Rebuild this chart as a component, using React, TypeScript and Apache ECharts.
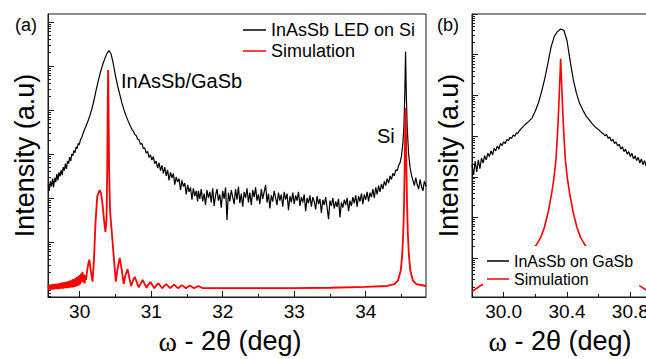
import React, { useEffect, useRef } from "react";
import * as echarts from "echarts";

const FONT = "'Liberation Sans', Arial, Helvetica, sans-serif";
const SERIF = "'Liberation Serif', 'Times New Roman', serif";

// All series: [omega-2theta (deg), log10(intensity, a.u.)]
const LED_ON_SI: number[][] = [
  [29.56, 2.30], [29.575, 2.16], [29.59, 2.38], [29.605, 2.26], [29.62, 2.44], [29.635, 2.24], [29.65, 2.46], [29.665, 2.36],
  [29.68, 2.54], [29.695, 2.40], [29.71, 2.58], [29.725, 2.49], [29.74, 2.63], [29.755, 2.52], [29.77, 2.70], [29.785, 2.62],
  [29.80, 2.78], [29.815, 2.66], [29.83, 2.84], [29.845, 2.78], [29.86, 2.93], [29.875, 2.84], [29.89, 3.00], [29.905, 2.96],
  [29.92, 3.08], [29.935, 3.03], [29.95, 3.16], [29.965, 3.12], [29.98, 3.24], [29.995, 3.21], [30.01, 3.32], [30.03, 3.38],
  [30.05, 3.48], [30.07, 3.56], [30.09, 3.64], [30.11, 3.72], [30.14, 3.86], [30.17, 4.02], [30.20, 4.22], [30.23, 4.45],
  [30.26, 4.66], [30.29, 4.86], [30.32, 5.02], [30.35, 5.16], [30.38, 5.28], [30.41, 5.35], [30.44, 5.27], [30.47, 5.05],
  [30.50, 4.78], [30.53, 4.55], [30.56, 4.36], [30.59, 4.16], [30.62, 4.00], [30.65, 3.86], [30.68, 3.74], [30.71, 3.63],
  [30.73, 3.56], [30.75, 3.52], [30.77, 3.44], [30.79, 3.42], [30.81, 3.34], [30.83, 3.32], [30.85, 3.22], [30.87, 3.24],
  [30.89, 3.12], [30.91, 3.14], [30.93, 3.02], [30.95, 3.06], [30.97, 2.92], [30.99, 2.98], [31.01, 2.86], [31.03, 2.94],
  [31.05, 2.78], [31.07, 2.84], [31.09, 2.68], [31.11, 2.80], [31.13, 2.62], [31.15, 2.74], [31.17, 2.56], [31.19, 2.70],
  [31.21, 2.50], [31.23, 2.64], [31.25, 2.40], [31.27, 2.58], [31.29, 2.46], [31.31, 2.56], [31.33, 2.30], [31.35, 2.48],
  [31.37, 2.36], [31.39, 2.44], [31.41, 2.18], [31.43, 2.40], [31.45, 2.26], [31.47, 2.34], [31.49, 2.08], [31.51, 2.30],
  [31.53, 2.14], [31.55, 2.24], [31.57, 1.96], [31.59, 2.22], [31.61, 2.04], [31.63, 2.16], [31.65, 1.92],
  [31.66, 2.16], [31.68, 1.98], [31.70, 2.20], [31.72, 1.92], [31.74, 2.10], [31.76, 1.84], [31.78, 2.18], [31.80, 2.00],
  [31.82, 2.14], [31.84, 1.90], [31.86, 2.22], [31.88, 1.82], [31.90, 2.06], [31.92, 2.20], [31.94, 1.94], [31.96, 2.08],
  [31.98, 1.78], [32.00, 2.16], [32.02, 1.98], [32.04, 2.24], [32.06, 1.50], [32.08, 2.12], [32.10, 1.92], [32.12, 2.18],
  [32.14, 2.02], [32.16, 1.86], [32.18, 2.20], [32.20, 1.96], [32.22, 2.26], [32.24, 1.88], [32.26, 2.10], [32.28, 1.80],
  [32.30, 2.14], [32.32, 2.00], [32.34, 2.22], [32.36, 1.90], [32.38, 2.12], [32.40, 1.84], [32.42, 2.18], [32.44, 2.02],
  [32.46, 2.24], [32.48, 1.94], [32.50, 2.08], [32.52, 1.86], [32.54, 2.20], [32.56, 1.98], [32.58, 2.14], [32.60, 2.30],
  [32.62, 1.90], [32.64, 2.10], [32.66, 1.76], [32.68, 2.06], [32.70, 1.92], [32.72, 2.16], [32.74, 2.00], [32.76, 1.84],
  [32.78, 2.12], [32.80, 1.94], [32.82, 2.08], [32.84, 1.80], [32.86, 2.14], [32.88, 1.96], [32.90, 2.10], [32.92, 1.72],
  [32.94, 2.04], [32.96, 1.90], [32.98, 2.12], [33.00, 1.86], [33.02, 2.06], [33.04, 1.94], [33.06, 2.14], [33.08, 1.82],
  [33.10, 2.02], [33.12, 1.90], [33.14, 2.08], [33.16, 1.70], [33.18, 2.00], [33.20, 1.88], [33.22, 2.06], [33.24, 1.80],
  [33.26, 2.02], [33.28, 1.92], [33.30, 1.74], [33.32, 2.04], [33.34, 1.86], [33.36, 1.98], [33.38, 1.66], [33.40, 1.96],
  [33.42, 1.84], [33.44, 2.02], [33.46, 1.78], [33.48, 1.52], [33.50, 1.94], [33.52, 1.82], [33.54, 2.00], [33.56, 1.76],
  [33.58, 1.92], [33.60, 1.80], [33.62, 1.98], [33.64, 1.56], [33.66, 1.90], [33.68, 1.78], [33.70, 1.96], [33.72, 1.84],
  [33.74, 2.00], [33.76, 1.70], [33.78, 1.94], [33.80, 1.82], [33.82, 2.02], [33.84, 1.88], [33.86, 2.06], [33.88, 1.80],
  [33.90, 2.04], [33.92, 1.92], [33.94, 2.10], [33.96, 1.86], [33.98, 2.08], [34.00, 1.96], [34.02, 2.14], [34.04, 1.92],
  [34.06, 2.12], [34.08, 2.02], [34.10, 2.20], [34.12, 2.00], [34.14, 2.24], [34.16, 2.08], [34.18, 2.28], [34.20, 2.14],
  [34.22, 2.32], [34.24, 2.20], [34.26, 2.38], [34.28, 2.28], [34.30, 2.44], [34.32, 2.34], [34.34, 2.50], [34.36, 2.42],
  [34.38, 2.56], [34.40, 2.50], [34.42, 2.64], [34.44, 2.62], [34.46, 2.74], [34.48, 2.80], [34.50, 2.95],
  [34.52, 3.25], [34.535, 3.65], [34.547, 4.40], [34.557, 5.33], [34.567, 4.40], [34.58, 3.60], [34.60, 3.00], [34.62, 2.70],
  [34.64, 2.52], [34.66, 2.40], [34.68, 2.28], [34.70, 2.46], [34.72, 2.30], [34.74, 2.20], [34.76, 2.42], [34.78, 2.26],
  [34.80, 2.16], [34.82, 2.38], [34.845, 2.26],
];

const SIM_ON_SI: number[][] = [
  [29.56, 0.02], [29.57, -0.08], [29.58, 0.03], [29.59, -0.08], [29.60, 0.03], [29.61, -0.08], [29.62, 0.04], [29.63, -0.08],
  [29.64, 0.04], [29.65, -0.07], [29.66, 0.05], [29.67, -0.07], [29.68, 0.05], [29.69, -0.07], [29.70, 0.06], [29.71, -0.07],
  [29.72, 0.06], [29.73, -0.06], [29.74, 0.07], [29.75, -0.06], [29.76, 0.08], [29.77, -0.06], [29.78, 0.08], [29.79, -0.05],
  [29.80, 0.09], [29.81, -0.05], [29.82, 0.10], [29.83, -0.05], [29.84, 0.11], [29.85, -0.04], [29.86, 0.12], [29.87, -0.04],
  [29.88, 0.13], [29.89, -0.03], [29.90, 0.15], [29.91, -0.03], [29.92, 0.16], [29.93, -0.02], [29.94, 0.18], [29.95, -0.01],
  [29.96, 0.20], [29.97, 0.00], [29.98, 0.22], [29.99, 0.02], [30.00, 0.25], [30.01, 0.04], [30.02, 0.28], [30.03, 0.10],
  [30.04, 0.32], [30.05, 0.08], [30.06, 0.26], [30.07, 0.06], [30.08, 0.24], [30.09, 0.14], [30.10, 0.30], [30.11, 0.40],
  [30.12, 0.50], [30.135, 0.60], [30.155, 0.35], [30.18, 0.10], [30.20, 0.60], [30.22, 1.40], [30.245, 2.03], [30.28, 2.18],
  [30.30, 2.10], [30.32, 1.85], [30.34, 1.50], [30.36, 1.23], [30.375, 1.50], [30.385, 2.60], [30.393, 4.20], [30.398, 4.91],
  [30.403, 4.20], [30.412, 2.60], [30.425, 1.70], [30.45, 1.20], [30.47, 0.80], [30.49, 0.40], [30.505, 0.10], [30.53, 0.40],
  [30.56, 0.64], [30.59, 0.35], [30.615, 0.05], [30.64, 0.25], [30.67, 0.38], [30.695, 0.18], [30.72, 0.00], [30.745, 0.12],
  [30.77, 0.21], [30.80, 0.08], [30.825, -0.03], [30.855, 0.06], [30.88, 0.14], [30.91, 0.04], [30.935, -0.04], [30.96, 0.03],
  [30.99, 0.09], [31.02, 0.01], [31.045, -0.05], [31.075, 0.02], [31.10, 0.06], [31.13, 0.00], [31.155, -0.05], [31.21, 0.04],
  [31.265, -0.05], [31.32, 0.03], [31.375, -0.05], [31.43, 0.02], [31.485, -0.05], [31.54, 0.01], [31.60, -0.05], [31.66, 0.00],
  [31.72, -0.05], [32.00, -0.05], [32.50, -0.05], [33.00, -0.05], [33.50, -0.04], [34.00, -0.02], [34.30, 0.00], [34.40, 0.04],
  [34.45, 0.12], [34.49, 0.35], [34.51, 0.70], [34.525, 1.20], [34.535, 1.80], [34.545, 2.70], [34.552, 3.60], [34.557, 4.05],
  [34.562, 3.60], [34.569, 2.70], [34.579, 1.80], [34.589, 1.20], [34.604, 0.70], [34.624, 0.35], [34.66, 0.12], [34.71, 0.04],
  [34.845, 0.00],
];

const ON_GASB: number[][] = [
  [29.80, 3.30], [29.81, 3.05], [29.82, 3.38], [29.83, 3.12], [29.84, 3.42], [29.85, 3.20], [29.86, 3.46], [29.87, 3.34],
  [29.88, 3.52], [29.89, 3.42], [29.90, 3.58], [29.91, 3.50], [29.92, 3.64], [29.93, 3.54], [29.94, 3.70], [29.95, 3.64],
  [29.96, 3.76], [29.97, 3.68], [29.98, 3.82], [29.99, 3.77], [30.00, 3.86], [30.01, 3.82], [30.02, 3.92], [30.03, 3.89],
  [30.04, 3.97], [30.05, 3.94], [30.06, 4.03], [30.07, 4.00], [30.08, 4.08], [30.09, 4.07], [30.10, 4.14], [30.12, 4.22],
  [30.14, 4.30], [30.16, 4.37], [30.18, 4.45], [30.20, 4.62], [30.22, 4.82], [30.24, 5.10], [30.26, 5.42], [30.28, 5.80],
  [30.30, 6.20], [30.32, 6.45], [30.34, 6.57], [30.36, 6.63], [30.38, 6.60], [30.40, 6.35], [30.42, 5.85], [30.44, 5.38],
  [30.46, 5.05], [30.48, 4.80], [30.50, 4.64], [30.52, 4.50], [30.54, 4.40], [30.56, 4.30], [30.58, 4.22], [30.60, 4.16],
  [30.62, 4.08], [30.63, 4.06], [30.64, 4.01], [30.65, 4.04], [30.66, 3.95], [30.67, 3.98], [30.68, 3.88], [30.69, 3.92],
  [30.70, 3.82], [30.71, 3.86], [30.72, 3.76], [30.73, 3.80], [30.74, 3.68], [30.75, 3.74], [30.76, 3.62], [30.77, 3.68],
  [30.78, 3.56], [30.79, 3.62], [30.80, 3.50], [30.81, 3.58], [30.82, 3.44], [30.83, 3.52], [30.84, 3.40], [30.85, 3.48],
  [30.86, 3.34], [30.87, 3.44], [30.88, 3.30], [30.89, 3.40], [30.90, 3.26], [30.92, 3.36], [30.94, 3.22],
];

const SIM_ON_GASB: number[][] = [
  [29.80, 0.18], [29.85, 0.32], [29.94, 0.50], [30.03, 0.72], [30.10, 0.92], [30.16, 1.12], [30.207, 1.33], [30.235, 1.52],
  [30.258, 1.77], [30.282, 2.15], [30.303, 2.59], [30.317, 2.95], [30.33, 3.41], [30.34, 4.05], [30.347, 4.63], [30.354, 5.30],
  [30.36, 5.90], [30.366, 5.30], [30.373, 4.63], [30.38, 4.05], [30.39, 3.41], [30.403, 2.95], [30.417, 2.59], [30.438, 2.15],
  [30.462, 1.77], [30.485, 1.52], [30.513, 1.33], [30.56, 1.12], [30.62, 0.92], [30.69, 0.72], [30.78, 0.50], [30.87, 0.30],
  [30.90, 0.22], [31.00, 0.05],
];

const A_X_RANGE = [29.557, 34.843];
const A_Y_RANGE = [-0.25, 6.18];
const B_X_RANGE = [29.8, 30.937];
const B_Y_RANGE = [0.05, 7.0];
const A_X_MAJOR = [30, 31, 32, 33, 34];
const A_X_MINOR = [30.5, 31.5, 32.5, 33.5, 34.5];
const B_X_MAJOR = [30.0, 30.4, 30.8];
const B_X_MINOR = [30.2, 30.6];
const DECADES = [-1, 0, 1, 2, 3, 4, 5, 6, 7];

function majorDecades(r: number[]) {
  return DECADES.filter((d) => d >= r[0] && d <= r[1]);
}
function minorDecades(r: number[]) {
  const out: number[] = [];
  DECADES.forEach((d) => {
    for (let k = 2; k <= 9; k++) {
      const v = d + Math.log10(k);
      if (v > r[0] && v < r[1]) out.push(v);
    }
  });
  return out;
}

const AXIS_COLOR = "#1a1a1a";

function xAxes(grid: number, range: number[], major: number[], minor: number[], fmt: (v: number) => string, namePad: number[]) {
  return [
    {
      type: "value", gridIndex: grid, position: "bottom", min: range[0], max: range[1],
      axisLine: { show: true, onZero: false, lineStyle: { color: AXIS_COLOR, width: 1 } },
      axisTick: { show: true, inside: true, length: 6, customValues: major, lineStyle: { color: AXIS_COLOR, width: 1 } },
      axisLabel: { show: true, customValues: major, formatter: fmt, fontSize: 19, color: "#000", fontFamily: FONT, margin: 5 },
      splitLine: { show: false },
      name: "{w|ω} - 2θ (deg)", nameLocation: "middle", nameGap: 30,
      nameTextStyle: {
        fontSize: 27, color: "#000", fontFamily: FONT, padding: namePad,
        rich: { w: { fontSize: 28, fontFamily: SERIF, color: "#000" } },
      },
    },
    {
      type: "value", gridIndex: grid, position: "bottom", min: range[0], max: range[1],
      axisLine: { show: false, onZero: false },
      axisTick: { show: true, inside: true, length: 3, customValues: minor, lineStyle: { color: AXIS_COLOR, width: 1 } },
      axisLabel: { show: false }, splitLine: { show: false },
    },
  ];
}

function yAxes(grid: number, range: number[]) {
  return [
    {
      type: "value", gridIndex: grid, position: "left", min: range[0], max: range[1],
      axisLine: { show: true, onZero: false, lineStyle: { color: AXIS_COLOR, width: 1 } },
      axisTick: { show: true, inside: true, length: 6, customValues: majorDecades(range), lineStyle: { color: AXIS_COLOR, width: 1 } },
      axisLabel: { show: false }, splitLine: { show: false },
      name: "Intensity (a.u)", nameLocation: "middle", nameGap: 10,
      nameTextStyle: { fontSize: 27, color: "#000", fontFamily: FONT },
    },
    {
      type: "value", gridIndex: grid, position: "left", min: range[0], max: range[1],
      axisLine: { show: false, onZero: false },
      axisTick: { show: true, inside: true, length: 3, customValues: minorDecades(range), lineStyle: { color: AXIS_COLOR, width: 1 } },
      axisLabel: { show: false }, splitLine: { show: false },
    },
  ];
}

export default function App() {
  const ref = useRef<HTMLDivElement>(null);
  useEffect(() => {
    if (!ref.current) return;
    const chart = echarts.init(ref.current, null, { renderer: "svg" });
    const option: any = {
      animation: false,
      backgroundColor: "#fff",
      textStyle: { fontFamily: FONT },
      grid: [
        { left: 48, top: 14, width: 378, height: 283, show: true, borderColor: AXIS_COLOR, borderWidth: 1, containLabel: false, outerBoundsMode: "none" },
        { left: 472, top: 14, width: 180, height: 283, show: true, borderColor: AXIS_COLOR, borderWidth: 1, containLabel: false, outerBoundsMode: "none" },
      ],
      xAxis: [
        ...xAxes(0, A_X_RANGE, A_X_MAJOR, A_X_MINOR, (v: number) => String(Math.round(v)), [0, 14, 0, 0]),
        ...xAxes(1, B_X_RANGE, B_X_MAJOR, B_X_MINOR, (v: number) => v.toFixed(1), [0, 4, 0, 0]),
      ],
      yAxis: [...yAxes(0, A_Y_RANGE), ...yAxes(1, B_Y_RANGE)],
      legend: [
        {
          data: ["InAsSb LED on Si", "Simulation"], orient: "vertical", left: 243, top: 21,
          icon: "rect", itemWidth: 23, itemHeight: 1.5, itemGap: 3, padding: 0,
          textStyle: { fontSize: 18, lineHeight: 18, color: "#000", fontFamily: FONT },
        },
        {
          data: ["InAsSb on GaSb", "Simulation"], orient: "vertical", left: 483, top: 246,
          icon: "rect", itemWidth: 22, itemHeight: 1.5, itemGap: 2, padding: [7, 6, 5, 4], backgroundColor: "#fff",
          textStyle: { fontSize: 16, lineHeight: 16, color: "#000", fontFamily: FONT },
        },
      ],
      graphic: [
        { type: "text", left: 15, top: 16, style: { text: "(a)", fontSize: 18, fontFamily: FONT, fill: "#000" } },
        { type: "text", left: 437, top: 16, style: { text: "(b)", fontSize: 18, fontFamily: FONT, fill: "#000" } },
        { type: "text", left: 121, top: 71, style: { text: "InAsSb/GaSb", fontSize: 20, fontFamily: FONT, fill: "#000" } },
        { type: "text", left: 377, top: 126, style: { text: "Si", fontSize: 20, fontFamily: FONT, fill: "#000" } },
      ],
      series: [
        { type: "line", name: "InAsSb LED on Si", xAxisIndex: 0, yAxisIndex: 0, data: LED_ON_SI, symbol: "none", color: "#000", lineStyle: { color: "#000", width: 1.2 } },
        { type: "line", name: "Simulation", xAxisIndex: 0, yAxisIndex: 0, data: SIM_ON_SI, symbol: "none", color: "#ff0000", lineStyle: { color: "#ff0000", width: 1.8 } },
        { type: "line", name: "InAsSb on GaSb", xAxisIndex: 2, yAxisIndex: 2, data: ON_GASB, symbol: "none", color: "#000", lineStyle: { color: "#000", width: 1.2 } },
        { type: "line", name: "Simulation", xAxisIndex: 2, yAxisIndex: 2, data: SIM_ON_GASB, symbol: "none", color: "#ff0000", lineStyle: { color: "#ff0000", width: 1.6 } },
      ],
    };
    chart.setOption(option);
    return () => chart.dispose();
  }, []);
  return <div ref={ref} style={{ position: "fixed", left: 0, top: 0, width: 646, height: 359 }} />;
}
